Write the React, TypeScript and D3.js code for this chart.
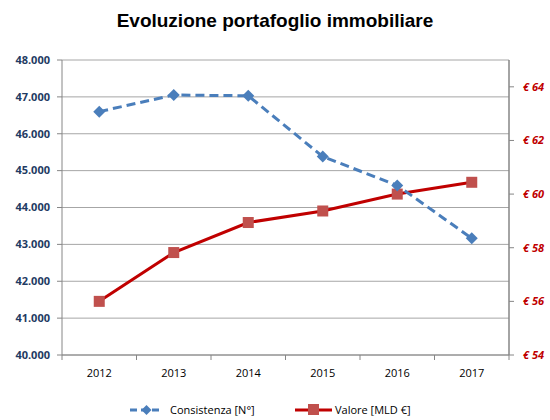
import React from "react";
import * as d3 from "d3";

const years = ["2012", "2013", "2014", "2015", "2016", "2017"];
const consistenza = [46600, 47050, 47030, 45380, 44600, 43165];
const valore = [56.0, 57.82, 58.94, 59.37, 60.0, 60.44];
const leftTicks = [40000, 41000, 42000, 43000, 44000, 45000, 46000, 47000, 48000];
const rightTicks = [54, 56, 58, 60, 62, 64];

const W = 550, H = 420;
const M = { left: 62, right: 509, top: 60, bottom: 355 };
const FONT = "'Open Sans', 'Liberation Sans', Arial, sans-serif";

export default function App() {
  const x = d3.scaleBand().domain(years).range([M.left, M.right]);
  const yL = d3.scaleLinear().domain([40000, 48000]).range([M.bottom, M.top]);
  const yR = d3.scaleLinear().domain([54, 65]).range([M.bottom, M.top]);
  const cx = (y: string) => (x(y) as number) + x.bandwidth() / 2;
  const fmtL = (v: number) => d3.format(",")(v).replace(/,/g, ".");

  const lineL = d3.line<number>().x((_, i) => cx(years[i])).y((d) => yL(d));
  const lineR = d3.line<number>().x((_, i) => cx(years[i])).y((d) => yR(d));

  const blue = "#4A7EBB";
  const red = "#C00000";
  const sq = "#C0504D";
  const diamond = (px: number, py: number, s: number) =>
    `M${px},${py - s}L${px + s},${py}L${px},${py + s}L${px - s},${py}Z`;

  return (
    <svg width={W} height={H} style={{ display: "block", position: "absolute", left: 0, top: 0 }} fontFamily={FONT}>
      <rect width={W} height={H} fill="#fff" />
      <text x={275} y={27} textAnchor="middle" fontSize={19} fontWeight="bold" fill="#000" fontFamily="'Liberation Sans', Arial, sans-serif">
        Evoluzione portafoglio immobiliare
      </text>
      {/* gridlines */}
      {leftTicks.map((t) => (
        <line key={"g" + t} x1={M.left} x2={M.right} y1={yL(t)} y2={yL(t)} stroke="#A6A6A6" strokeWidth={1} />
      ))}
      {/* left axis */}
      <line x1={M.left} x2={M.left} y1={M.top} y2={M.bottom} stroke="#868686" strokeWidth={1} />
      {leftTicks.map((t) => (
        <g key={"l" + t}>
          <line x1={M.left - 5} x2={M.left} y1={yL(t)} y2={yL(t)} stroke="#868686" />
          <text x={M.left - 12} y={yL(t)} dy="0.35em" textAnchor="end" fontSize={11} fontWeight="bold" fill="#1F3B63">
            {fmtL(t)}
          </text>
        </g>
      ))}
      {/* right axis */}
      <line x1={M.right} x2={M.right} y1={M.top} y2={M.bottom} stroke="#868686" strokeWidth={1.5} />
      {rightTicks.map((t) => (
        <g key={"r" + t}>
          <line x1={M.right} x2={M.right + 5} y1={yR(t)} y2={yR(t)} stroke="#868686" />
          <text x={M.right + 14} y={yR(t)} dy="0.35em" textAnchor="start" fontSize={11} fontWeight="bold" fontStyle="italic" fill={red}>
            {"€ " + t}
          </text>
        </g>
      ))}
      {/* x axis */}
      <line x1={M.left} x2={M.right} y1={M.bottom} y2={M.bottom} stroke="#868686" />
      {years.map((y) => (
        <line key={"xt" + y} x1={x(y) as number} x2={x(y) as number} y1={M.bottom} y2={M.bottom + 5} stroke="#868686" />
      ))}
      <line x1={M.right} x2={M.right} y1={M.bottom} y2={M.bottom + 5} stroke="#868686" />
      {years.map((y) => (
        <text key={"xl" + y} x={cx(y)} y={M.bottom + 22} textAnchor="middle" fontSize={11} fill="#000">
          {y}
        </text>
      ))}
      {/* series */}
      <path d={lineR(valore) as string} fill="none" stroke={red} strokeWidth={3} />
      {valore.map((v, i) => (
        <rect key={"s" + i} x={cx(years[i]) - 5.5} y={yR(v) - 5.5} width={11} height={11} fill={sq} />
      ))}
      <path d={lineL(consistenza) as string} fill="none" stroke={blue} strokeWidth={3} strokeDasharray="9,5" />
      {consistenza.map((v, i) => (
        <path key={"d" + i} d={diamond(cx(years[i]), yL(v), 6)} fill={blue} />
      ))}
      {/* legend */}
      <g>
        <line x1={130} x2={163} y1={410} y2={410} stroke={blue} strokeWidth={3} strokeDasharray="7,4" />
        <path d={diamond(146.5, 410, 5)} fill={blue} />
        <text x={170} y={410} dy="0.35em" fontSize={11} fill="#000">Consistenza [N°]</text>
        <line x1={295} x2={332} y1={410} y2={410} stroke={red} strokeWidth={3} />
        <rect x={308} y={404} width={11} height={11} fill={sq} />
        <text x={335} y={410} dy="0.35em" fontSize={11} fill="#000">Valore [MLD €]</text>
      </g>
    </svg>
  );
}
